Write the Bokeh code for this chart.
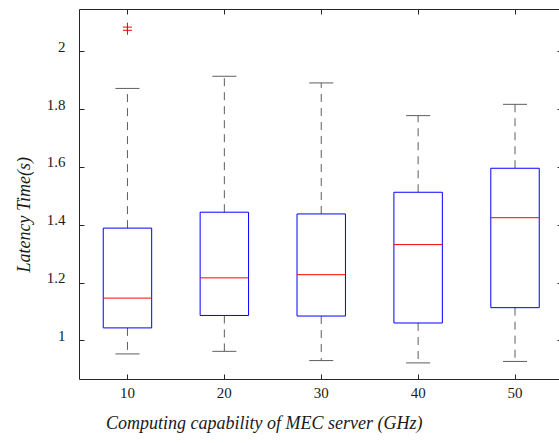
from bokeh.plotting import figure
from bokeh.models import (Range1d, FixedTicker, LinearAxis, Title,
                          ColumnDataSource)
from bokeh.transform import dodge
from bokeh.embed import file_html
from bokeh.resources import INLINE

# ---- data ----
categories = ["10", "20", "30", "40", "50"]
upper_whisker = [1.873, 1.915, 1.892, 1.779, 1.818]
q3 = [1.390, 1.445, 1.439, 1.514, 1.597]
median = [1.148, 1.218, 1.229, 1.333, 1.426]
q1 = [1.045, 1.088, 1.086, 1.062, 1.115]
lower_whisker = [0.955, 0.964, 0.932, 0.924, 0.929]
outlier_group = ["10", "10"]
outlier_values = [2.085, 2.074]
y_ticks = [1.0, 1.2, 1.4, 1.6, 1.8, 2.0]
y_tick_labels = ["1", "1.2", "1.4", "1.6", "1.8", "2"]
x_label = "Computing capability of MEC server (GHz)"
y_label = "Latency Time(s)"

FONT = "Liberation Serif"
AXIS_COLOR = "#262626"
TEXT_COLOR = "#1a1a1a"
WHISKER_COLOR = "#5e5e5e"

Y0, Y1 = 0.8666, 2.1459
LABEL_SHIFT = 0.0172  # tick labels sit on their tick (baseline), as in the reference

pos = [i + 1 for i in range(len(categories))]
src = ColumnDataSource(dict(pos=pos, upper=upper_whisker, q3=q3, med=median,
                            q1=q1, lower=lower_whisker))
out_src = ColumnDataSource(dict(x=[categories.index(g) + 1 for g in outlier_group],
                                y=outlier_values))

p = figure(width=559, height=443,
           x_range=Range1d(0.505, 5.459), y_range=Range1d(Y0, Y1),
           output_backend="svg", toolbar_location=None,
           x_axis_location=None, y_axis_location=None,
           min_border_left=79, min_border_right=0,
           min_border_top=9, min_border_bottom=63)
p.extra_y_ranges = {"labels": Range1d(Y0 - LABEL_SHIFT, Y1 - LABEL_SHIFT)}
p.outline_line_color = None
p.grid.visible = False
p.background_fill_color = "white"
p.border_fill_color = "white"


def style_axis(ax, tick_in=5):
    ax.axis_line_color = AXIS_COLOR
    ax.axis_line_width = 1
    ax.major_tick_line_color = AXIS_COLOR
    ax.major_tick_in = tick_in
    ax.major_tick_out = 0
    ax.minor_tick_line_color = None


def hide_labels(ax):
    ax.major_label_text_font_size = "0px"
    ax.major_label_text_color = None
    ax.major_label_standoff = 0


bottom = LinearAxis(ticker=FixedTicker(ticks=pos),
                    major_label_overrides={x: c for x, c in zip(pos, categories)})
style_axis(bottom)
bottom.major_label_text_font = FONT
bottom.major_label_text_font_size = "15px"
bottom.major_label_text_color = TEXT_COLOR
bottom.major_label_standoff = 8
p.add_layout(bottom, "below")

top = LinearAxis(ticker=FixedTicker(ticks=pos))
style_axis(top)
hide_labels(top)
p.add_layout(top, "above")

# left spine with inward ticks
left = LinearAxis(ticker=FixedTicker(ticks=y_ticks))
style_axis(left)
hide_labels(left)
p.add_layout(left, "left")

# left tick labels
left_lab = LinearAxis(ticker=FixedTicker(ticks=y_ticks), y_range_name="labels",
                      major_label_overrides={t: s for t, s in zip(y_ticks, y_tick_labels)})
left_lab.axis_line_color = None
left_lab.major_tick_line_color = None
left_lab.minor_tick_line_color = None
left_lab.major_tick_in = 0
left_lab.major_tick_out = 0
left_lab.major_label_text_font = FONT
left_lab.major_label_text_font_size = "15px"
left_lab.major_label_text_color = TEXT_COLOR
left_lab.major_label_standoff = 14
p.add_layout(left_lab, "left")

# right side: only the tips of the inward ticks are visible
right = LinearAxis(ticker=FixedTicker(ticks=y_ticks))
style_axis(right, tick_in=2)
right.axis_line_color = None
hide_labels(right)
p.add_layout(right, "right")

# whiskers
p.segment(x0="pos", y0="q3", x1="pos", y1="upper", source=src,
          line_color=WHISKER_COLOR, line_width=1, line_dash="8 6")
p.segment(x0="pos", y0="q1", x1="pos", y1="lower", source=src,
          line_color=WHISKER_COLOR, line_width=1, line_dash="8 6")
# caps
p.segment(x0=dodge("pos", -0.124), y0="upper", x1=dodge("pos", 0.124), y1="upper",
          source=src, line_color=WHISKER_COLOR, line_width=1)
p.segment(x0=dodge("pos", -0.124), y0="lower", x1=dodge("pos", 0.124), y1="lower",
          source=src, line_color=WHISKER_COLOR, line_width=1)
# boxes
p.vbar(x="pos", width=0.5, top="q3", bottom="q1", source=src,
       fill_alpha=0, line_color="#0000ff", line_width=1)
# medians
p.segment(x0=dodge("pos", -0.25), y0="med", x1=dodge("pos", 0.25), y1="med",
          source=src, line_color="#ff0000", line_width=1)
# outliers
p.scatter(x="x", y="y", source=out_src, marker="cross", size=9,
          line_color="#ff0000", line_width=1)

# axis titles
xt = Title(text=x_label, align="left", offset=26.5, standoff=21,
           text_font=FONT, text_font_style="italic", text_font_size="18px",
           text_line_height=0.8, text_color=TEXT_COLOR)
p.add_layout(xt, "below")
yt = Title(text=y_label, align="left", offset=107, standoff=19,
           text_font=FONT, text_font_style="italic", text_font_size="18px",
           text_color=TEXT_COLOR)
p.add_layout(yt, "left")

open("out.html", "w").write(file_html(p, INLINE))
